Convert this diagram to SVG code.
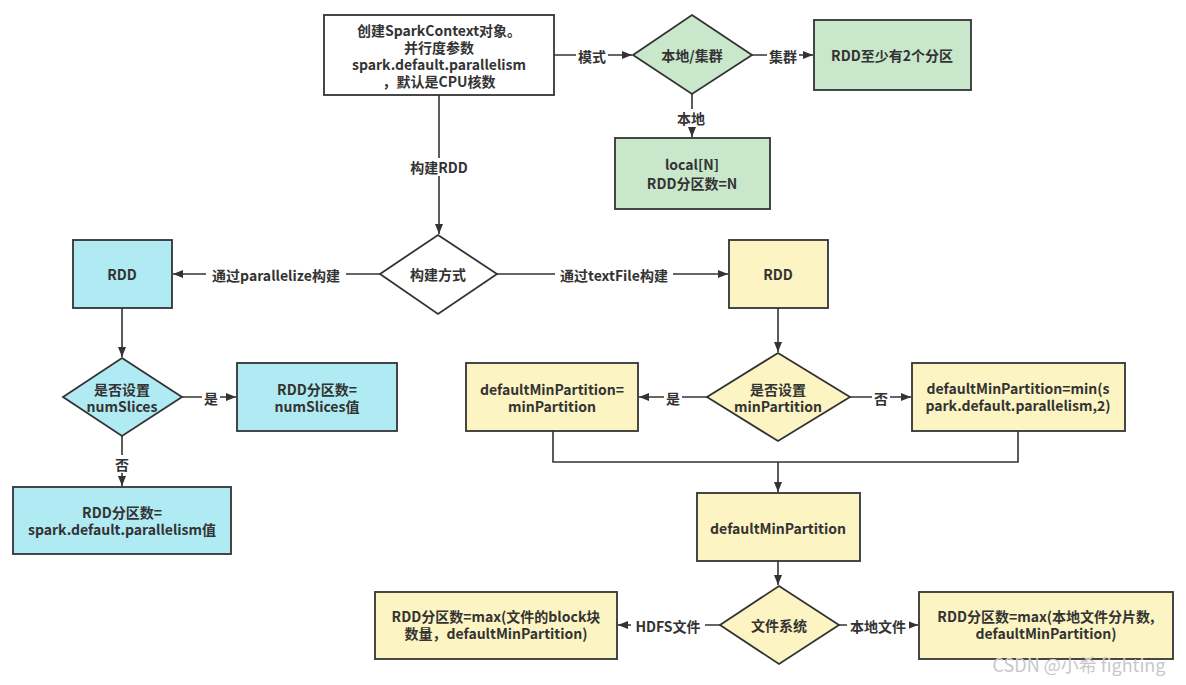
<svg xmlns="http://www.w3.org/2000/svg" width="1186" height="685" viewBox="0 0 1186 685">
<defs>
<marker id="ah" viewBox="0 0 10 10" refX="10" refY="5" markerWidth="10" markerHeight="10" markerUnits="userSpaceOnUse" orient="auto">
<path d="M0,1 L10,5 L0,9 Z" fill="#333"/>
</marker>
<style>
.n{stroke:#333;stroke-width:1.8}
.w{fill:#fff}.g{fill:#c9e7cb}.b{fill:#b0eaf2}.y{fill:#fcf4c2}
text{font-family:"Noto Sans CJK SC","Liberation Sans",sans-serif;font-size:14px;font-weight:bold;fill:#333;text-anchor:middle;dominant-baseline:central}
.c{fill:none;stroke:#333;stroke-width:1.6}
.lb{fill:#fff}
</style>
</defs>
<rect width="1186" height="685" fill="#fff"/>
<g id="connectors">
<line class="c" x1="554" y1="55" x2="632" y2="55" marker-end="url(#ah)"/>
<line class="c" x1="752" y1="55" x2="813" y2="55" marker-end="url(#ah)"/>
<line class="c" x1="692" y1="93" x2="692" y2="137" marker-end="url(#ah)"/>
<line class="c" x1="439" y1="95" x2="439" y2="234" marker-end="url(#ah)"/>
<line class="c" x1="380" y1="274" x2="173" y2="274" marker-end="url(#ah)"/>
<line class="c" x1="497" y1="274" x2="728" y2="274" marker-end="url(#ah)"/>
<line class="c" x1="122" y1="308" x2="122" y2="357" marker-end="url(#ah)"/>
<line class="c" x1="182" y1="397" x2="236" y2="397" marker-end="url(#ah)"/>
<line class="c" x1="122" y1="436" x2="122" y2="486" marker-end="url(#ah)"/>
<line class="c" x1="778" y1="308" x2="778" y2="352" marker-end="url(#ah)"/>
<line class="c" x1="707" y1="397" x2="639" y2="397" marker-end="url(#ah)"/>
<line class="c" x1="850" y1="397" x2="911" y2="397" marker-end="url(#ah)"/>
<polyline class="c" points="553,431 553,462 1018,462 1018,431"/>
<line class="c" x1="778" y1="462" x2="778" y2="492" marker-end="url(#ah)"/>
<line class="c" x1="778" y1="561" x2="778" y2="585" marker-end="url(#ah)"/>
<line class="c" x1="720" y1="625" x2="618" y2="625" marker-end="url(#ah)"/>
<line class="c" x1="839" y1="625" x2="918" y2="625" marker-end="url(#ah)"/>
<rect class="lb" x="576" y="47" width="32" height="17"/><text x="592" y="56">模式</text>
<rect class="lb" x="767" y="47" width="32" height="17"/><text x="783" y="56">集群</text>
<rect class="lb" x="675" y="109" width="32" height="18"/><text x="691" y="118">本地</text>
<rect class="lb" x="405" y="158" width="68" height="18"/><text x="439" y="167">构建RDD</text>
<rect class="lb" x="206" y="266" width="140" height="18"/><text x="276" y="275">通过parallelize构建</text>
<rect class="lb" x="555" y="266" width="118" height="18"/><text x="614" y="275">通过textFile构建</text>
<rect class="lb" x="202" y="389" width="18" height="17"/><text x="211" y="398">是</text>
<rect class="lb" x="113" y="455" width="18" height="18"/><text x="122" y="464">否</text>
<rect class="lb" x="664" y="389" width="18" height="17"/><text x="673" y="398">是</text>
<rect class="lb" x="872" y="389" width="18" height="17"/><text x="881" y="398">否</text>
<rect class="lb" x="631" y="617" width="74" height="18"/><text x="668" y="626">HDFS文件</text>
<rect class="lb" x="847" y="617" width="62" height="18"/><text x="878" y="626">本地文件</text>
</g>
<g id="start"><rect class="n w" x="324" y="15" width="230" height="80"/>
<text x="439" y="30">创建SparkContext对象。<tspan x="439" dy="17">并行度参数</tspan><tspan x="439" dy="17">spark.default.parallelism</tspan><tspan x="439" dy="17">，默认是CPU核数</tspan></text></g>
<g id="mode"><polygon class="n g" points="692,15 752,55 692,94 633,55"/><text x="692" y="55">本地/集群</text></g>
<g id="cluster"><rect class="n g" x="814" y="20" width="157" height="70"/><text x="892" y="55">RDD至少有2个分区</text></g>
<g id="local"><rect class="n g" x="615" y="138" width="155" height="71"/><text x="692" y="164">local[N]<tspan x="692" dy="19">RDD分区数=N</tspan></text></g>
<g id="build"><polygon class="n w" points="438,235 497,274 438,314 380,274"/><text x="438" y="274">构建方式</text></g>
<g id="rddL"><rect class="n b" x="73" y="240" width="99" height="68"/><text x="122" y="274">RDD</text></g>
<g id="numSlices"><polygon class="n b" points="122,358 182,397 122,436 63,397"/><text x="122" y="389">是否设置<tspan x="122" dy="17">numSlices</tspan></text></g>
<g id="nsYes"><rect class="n b" x="237" y="363" width="160" height="68"/><text x="317" y="389">RDD分区数=<tspan x="317" dy="17">numSlices值</tspan></text></g>
<g id="nsNo"><rect class="n b" x="13" y="487" width="218" height="67"/><text x="122" y="512">RDD分区数=<tspan x="122" dy="17">spark.default.parallelism值</tspan></text></g>
<g id="rddR"><rect class="n y" x="729" y="240" width="99" height="68"/><text x="778" y="274">RDD</text></g>
<g id="minP"><polygon class="n y" points="778,353 850,397 778,441 707,397"/><text x="778" y="389">是否设置<tspan x="778" dy="17">minPartition</tspan></text></g>
<g id="mpYes"><rect class="n y" x="466" y="363" width="172" height="68"/><text x="552" y="389">defaultMinPartition=<tspan x="552" dy="17">minPartition</tspan></text></g>
<g id="mpNo"><rect class="n y" x="912" y="363" width="213" height="68"/><text x="1018" y="388">defaultMinPartition=min(s<tspan x="1018" dy="17">park.default.parallelism,2)</tspan></text></g>
<g id="dmp"><rect class="n y" x="697" y="493" width="163" height="68"/><text x="778" y="528">defaultMinPartition</text></g>
<g id="fs"><polygon class="n y" points="779,586 839,625 779,664 720,625"/><text x="779" y="625">文件系统</text></g>
<g id="hdfs"><rect class="n y" x="375" y="592" width="242" height="67"/><text x="496" y="616">RDD分区数=max(文件的block块<tspan x="496" dy="17">数量，defaultMinPartition)</tspan></text></g>
<g id="localfs"><rect class="n y" x="919" y="592" width="254" height="67"/><text x="1046" y="616">RDD分区数=max(本地文件分片数,<tspan x="1046" dy="17">defaultMinPartition)</tspan></text></g>
<text x="1079" y="664" style="font-weight:normal;font-size:18px;fill:#c8c8c8;font-family:'Liberation Sans Narrow','Noto Sans CJK SC',sans-serif">CSDN @小希 fighting</text>
</svg>
